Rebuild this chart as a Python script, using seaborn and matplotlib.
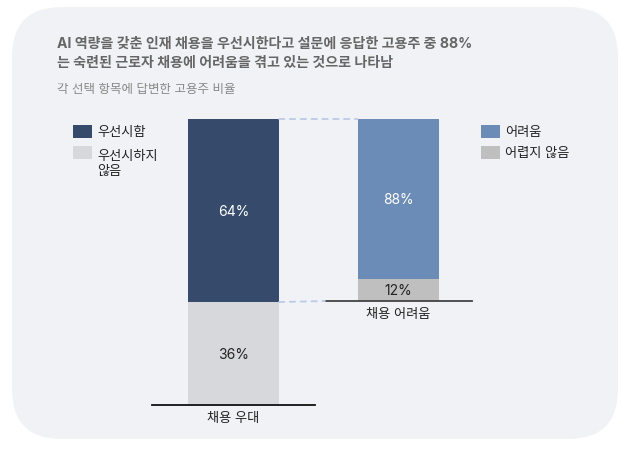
import matplotlib
matplotlib.use("Agg")
import matplotlib.pyplot as plt
import seaborn as sns
import pandas as pd
from matplotlib.patches import FancyBboxPatch, Rectangle, ConnectionPatch

sns.set_theme(style="white")
plt.rcParams['font.family'] = ['Inter', 'Noto Sans CJK KR', 'DejaVu Sans']

# ---- data ----
title_lines = ["AI 역량을 갖춘 인재 채용을 우선시한다고 설문에 응답한 고용주 중 88%",
               "는 숙련된 근로자 채용에 어려움을 겪고 있는 것으로 나타남"]
subtitle = "각 선택 항목에 답변한 고용주 비율"
left_category = ["채용 우대"]
left_labels = ["우선시함", "우선시하지\n않음"]
left_values = [64, 36]
right_category = ["채용 어려움"]
right_labels = ["어려움", "어렵지 않음"]
right_values = [88, 12]

# ---- style ----
NAVY = "#364a6c"
LGRAY = "#d7d8db"
BLUE = "#6c8cb8"
MGRAY = "#bfbfbf"
PANEL = "#f1f2f6"
W, H = 630, 456
BW = 0.8

fig = plt.figure(figsize=(W / 100, H / 100), dpi=100)
fig.patch.set_facecolor("white")

panel = FancyBboxPatch((12, H - 440), 606, 432,
                       boxstyle="round,pad=0,rounding_size=50",
                       transform=None, facecolor=PANEL, edgecolor="none", zorder=0)
fig.add_artist(panel)

# left axes (100% scale)
ax1 = fig.add_axes([152 / W, (H - 406) / H, 163 / W, 286 / H])
# right axes (breakdown of the 64% segment)
ax2 = fig.add_axes([325 / W, (H - 302) / H, 147 / W, 182 / H])

for ax in (ax1, ax2):
    ax.set_facecolor("none")

bar_kw = dict(width=BW, saturation=1, linewidth=0, edgecolor="none")
# left stacked bar: top segment drawn as total, bottom segment overdrawn
sns.barplot(x=left_category, y=[sum(left_values)], color=NAVY, ax=ax1, **bar_kw)
sns.barplot(x=left_category, y=[left_values[1]], color=LGRAY, ax=ax1, **bar_kw)

sns.barplot(x=right_category, y=[sum(right_values)], color=BLUE, ax=ax2, **bar_kw)
sns.barplot(x=right_category, y=[right_values[1]], color=MGRAY, ax=ax2, **bar_kw)

L1 = BW * 163 / 91 / 2
ax1.set_xlim(-L1, L1)
ax1.set_ylim(0, sum(left_values))
L2 = BW * 147 / 82 / 2
ax2.set_xlim(-L2, L2)
ax2.set_ylim(0, sum(right_values))

for ax, col in ((ax1, "#111111"), (ax2, "#444444")):
    for s in ("top", "left", "right"):
        ax.spines[s].set_visible(False)
    ax.spines["bottom"].set_color(col)
    ax.spines["bottom"].set_linewidth(1.3)
    ax.set_yticks([])
    ax.set_xlabel("")
    ax.set_ylabel("")
    ax.tick_params(axis="x", length=0, pad=5, labelsize=9.5, labelcolor="#222222")

# value labels
ax1.text(0, left_values[1] + left_values[0] / 2, f"{left_values[0]}%",
         ha="center", va="center", color="white", fontsize=10)
ax1.text(0, left_values[1] / 2, f"{left_values[1]}%",
         ha="center", va="center", color="#222222", fontsize=10)
ax2.text(0, right_values[1] + right_values[0] / 2, f"{right_values[0]}%",
         ha="center", va="center", color="white", fontsize=10)
ax2.text(0, right_values[1] / 2, f"{right_values[1]}%",
         ha="center", va="center", color="#222222", fontsize=10)

# dashed connectors
dash_kw = dict(color="#bccbe6", linewidth=1.3, linestyle=(0, (3, 3)))
c1 = ConnectionPatch(xyA=(BW / 2, sum(left_values)), coordsA=ax1.transData,
                     xyB=(-BW / 2, sum(right_values)), coordsB=ax2.transData, **dash_kw)
c2 = ConnectionPatch(xyA=(BW / 2, left_values[1]), coordsA=ax1.transData,
                     xyB=(-L2, 0), coordsB=ax2.transData, **dash_kw)
fig.add_artist(c1)
fig.add_artist(c2)

# titles
fig.text(57 / W, 1 - 44 / H, title_lines[0], fontsize=10.1, weight="bold",
         color="#666666", va="center", ha="left")
fig.text(57 / W, 1 - 63 / H, title_lines[1], fontsize=10.1, weight="bold",
         color="#666666", va="center", ha="left")
fig.text(57 / W, 1 - 90 / H, subtitle, fontsize=9, color="#888888",
         va="center", ha="left")

# legends
def legend_item(x, y_top, color, label):
    fig.add_artist(Rectangle((x, H - y_top - 13), 19, 13, transform=None,
                             facecolor=color, edgecolor="none"))
    fig.text((x + 24) / W, 1 - (y_top + 7) / H, label, fontsize=9.5,
             color="#222222", va="center", ha="left")

legend_item(73, 126, NAVY, left_labels[0])
fig.add_artist(Rectangle((73, H - 160), 19, 13, transform=None,
                         facecolor=LGRAY, edgecolor="none"))
fig.text(97 / W, 1 - 151 / H, left_labels[1], fontsize=9.5, color="#222222",
         va="top", ha="left", linespacing=1.35)
legend_item(481, 126, BLUE, right_labels[0])
legend_item(481, 147, MGRAY, right_labels[1])

fig.savefig("out.png", dpi=100, facecolor="white")
